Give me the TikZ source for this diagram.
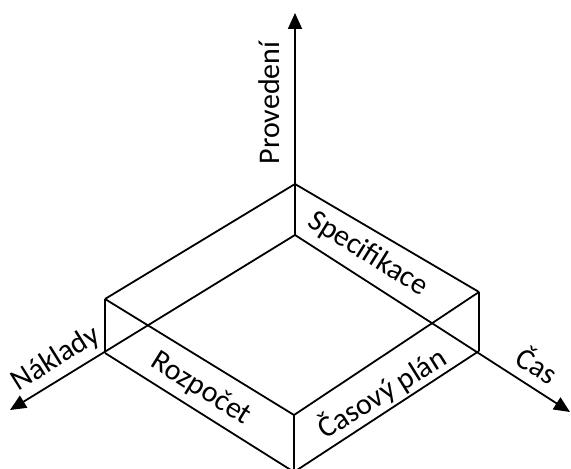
\documentclass[tikz,border=0pt]{standalone}
\usepackage{fontspec}
\setmainfont{Carlito}
\usetikzlibrary{arrows.meta}
\begin{document}
\begin{tikzpicture}
  [x=0.5pt,y=-0.5pt,line width=0.9pt,
   every node/.style={font=\fontsize{15}{18}\selectfont,inner sep=1pt},
   axis/.style={-{Triangle[length=8pt,width=7pt]}}]
  \useasboundingbox (0,0) rectangle (571,469);

  % box corners
  \coordinate (tt) at (295,184);
  \coordinate (tb) at (295,235);
  \coordinate (lt) at (105,299);
  \coordinate (lb) at (105,353);
  \coordinate (rt) at (479,292);
  \coordinate (rb) at (479,351);
  \coordinate (ft) at (294,415);
  \coordinate (fb) at (294,472);

  % axis tips
  \coordinate (tipP) at (295,13);
  \coordinate (tipN) at (10,410);
  \coordinate (tipC) at (570,412);

  \foreach \from/\to in {tt/lt,tt/rt,lt/ft,rt/ft,lt/lb,rt/rb,ft/fb,lb/fb,rb/fb}
    \draw (\from) -- (\to);

  \draw[axis] (tb) -- (tipP);
  \draw[axis] (tb) -- (tipN);
  \draw[axis] (tb) -- (tipC);

  \node[rotate=90] (provedeni) at (269,103) {Provedení};
  \node[rotate=32] (naklady) at (56,359) {Náklady};
  \node[rotate=-32] (cas) at (538,364) {Čas};
  \node[rotate=-32] (specifikace) at (368,254) {Specifikace};
  \node[rotate=-32] (rozpocet) at (201,389) {Rozpočet};
  \node[rotate=32] (casplan) at (382,393) {Časový plán};

\end{tikzpicture}
\end{document}
